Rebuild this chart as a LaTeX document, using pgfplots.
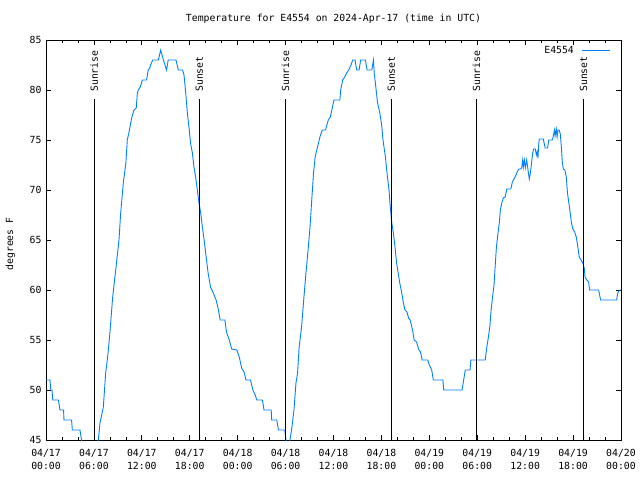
\documentclass[border=0pt]{standalone}
\usepackage{pgfplots}
\pgfplotsset{compat=1.18}
\usepackage{fontspec}
\setmainfont{DejaVu Sans Mono}
\newcommand\gf{\fontsize{9.8}{13}\selectfont}
\definecolor{tempblue}{RGB}{0,128,255}
\begin{document}
\begin{tikzpicture}[x=1pt,y=1pt]
\path[use as bounding box, fill=white] (0,0) rectangle (640,480);
\begin{axis}[
  at={(46pt,40pt)}, anchor=south west,
  scale only axis, width=575pt, height=400pt,
  xmin=0, xmax=72, ymin=45, ymax=85,
  xtick={0,6,...,72},
  xticklabels={{04/17\\00:00},{04/17\\06:00},{04/17\\12:00},{04/17\\18:00},{04/18\\00:00},{04/18\\06:00},{04/18\\12:00},{04/18\\18:00},{04/19\\00:00},{04/19\\06:00},{04/19\\12:00},{04/19\\18:00},{04/20\\00:00}},
  minor x tick num=2,
  ytick={45,50,...,85},
  tick align=inside,
  major tick length=5pt, minor tick length=3pt,
  tick style={black, line width=0.7pt},
  axis line style={black, line width=0.8pt},
  /pgf/number format/assume math mode=true,
  ticklabel style={font=\gf},
  xticklabel style={align=center, yshift=-6pt},
  yticklabel style={xshift=-1pt},
  legend plot pos=right,
  legend image code/.code={\path (-6pt,0pt); \draw[#1] (0pt,0pt) -- (28pt,0pt);},
  legend style={draw=none, fill=none, at={(1,1)}, anchor=north east, xshift=-10pt, yshift=-4pt, font=\gf, inner sep=0pt},
]
\addplot[tempblue, line width=0.9pt] coordinates {
(0,51) (0.5,51) (0.6,50) (0.75,50) (0.85,49) (1.55,49) (1.75,48) (2.2,48) (2.25,47) (3.2,47) (3.3,46) (4.25,46) (4.45,45) (4.6,44.3) (5.5,44) (6.3,44) (6.55,45) (6.76,46.7) (7.18,48.3) (7.47,51.7) (7.72,53.3) (8.0,55.7) (8.35,59.3) (8.77,62.3) (9.14,65) (9.35,67.7) (9.68,70.7) (10.0,72.7) (10.18,75) (10.4,75.8) (10.73,77.2) (11.02,78) (11.3,78.2) (11.44,79.7) (11.56,80) (11.8,80.3) (12.06,81) (12.6,81) (12.8,82) (13.0,82.2) (13.1,82.5) (13.36,83) (14.07,83) (14.36,84) (14.7,83) (15.1,82) (15.3,83) (16.28,83) (16.57,82) (17.1,82) (17.28,81.5) (17.5,79.7) (17.7,77.7) (17.9,76.3) (18.1,74.7) (18.33,73.7) (18.53,72.3) (18.74,71.3) (18.95,70) (19.16,68.7) (19.37,67.7) (19.58,66.3) (19.8,65) (20.1,63) (20.3,61.7) (20.6,60.3) (20.95,59.7) (21.3,59) (21.6,58) (21.8,57) (22.4,57) (22.6,55.8) (22.95,55) (23.25,54.1) (23.9,54) (24.2,53.3) (24.5,52.2) (24.8,51.8) (25.04,51) (25.6,51) (25.9,50) (26.2,49.5) (26.4,49) (27.1,49) (27.3,48) (28.2,48) (28.26,47) (28.9,47) (29.1,46) (29.9,46) (30.05,45) (30.2,44.5) (30.4,44.5) (30.55,45) (30.8,46.3) (31.05,48) (31.3,50.7) (31.5,51.7) (31.7,54.3) (32.0,56.3) (32.3,59.3) (32.55,61.7) (32.85,64.3) (33.06,66.3) (33.3,69.3) (33.5,71.7) (33.7,73.3) (34.0,74.3) (34.3,75.3) (34.6,76) (35.0,76) (35.35,77) (35.6,77.3) (35.85,78.2) (36.06,79) (36.8,79) (36.9,80) (37.15,81) (37.4,81.3) (37.65,81.7) (37.9,82) (38.2,82.5) (38.4,83) (38.7,83) (38.9,82) (39.2,82) (39.4,83) (40.0,83) (40.2,82) (40.8,82) (41.0,83) (41.1,81.7) (41.3,80.3) (41.5,78.8) (41.8,77.7) (42.03,76.5) (42.2,75) (42.5,73.3) (42.7,71.7) (42.95,70) (43.07,68.7) (43.2,67.5) (43.3,66.7) (43.5,65.7) (43.7,64.3) (43.9,62.7) (44.1,61.7) (44.3,60.7) (44.55,59.7) (44.75,58.7) (44.95,58) (45.2,57.8) (45.4,57.2) (45.6,57) (45.9,56) (46.1,55) (46.4,54.8) (46.7,54) (46.9,53.8) (47.1,53) (47.8,53) (48.0,52.5) (48.3,52) (48.5,51) (49.7,51) (49.8,50) (52.1,50) (52.3,51) (52.5,52) (53.1,52) (53.2,53) (55.0,53) (55.2,54.3) (55.4,55.3) (55.6,56.5) (55.7,57.7) (55.9,59.2) (56.1,60.5) (56.27,62.7) (56.4,64.3) (56.6,65.7) (56.76,66.7) (56.9,68) (57.1,68.8) (57.26,69.2) (57.5,69.3) (57.7,70.1) (58.2,70.1) (58.4,70.8) (58.6,71.1) (58.8,71.4) (59.0,71.8) (59.2,72.1) (59.4,72.1) (59.56,72.2) (59.69,73) (59.77,72.3) (59.9,73) (60.02,72.2) (60.19,73) (60.31,72.3) (60.44,71.5) (60.52,71.1) (60.65,71.7) (60.77,72.5) (60.94,73.7) (61.06,74.1) (61.27,74.1) (61.4,73.5) (61.5,73.8) (61.6,73.2) (61.69,74.5) (61.77,75.1) (62.27,75.1) (62.5,74.2) (62.8,74.2) (62.96,75) (63.4,75) (63.5,75.3) (63.67,76) (63.75,75.4) (63.9,76.1) (64.0,75.3) (64.1,76) (64.25,76) (64.4,75.6) (64.53,74.3) (64.65,72.8) (64.78,72.1) (64.98,72) (65.15,71.3) (65.3,69.7) (65.47,68.7) (65.64,67.7) (65.8,66.7) (65.97,66.1) (66.2,65.8) (66.4,65.3) (66.6,64.3) (66.77,63.3) (67.0,63) (67.2,62.7) (67.4,62.2) (67.5,61.3) (67.7,61) (67.95,60.8) (68.07,60) (69.2,60) (69.45,59) (71.45,59) (71.6,59.7) (71.8,60) (72,60)
};
\addlegendentry{E4554}
\addplot[black, line width=0.9pt, forget plot] coordinates {(6.05,45) (6.05,79.1)};
\addplot[black, line width=0.9pt, forget plot] coordinates {(19.2,45) (19.2,79.1)};
\addplot[black, line width=0.9pt, forget plot] coordinates {(29.98,45) (29.98,79.1)};
\addplot[black, line width=0.9pt, forget plot] coordinates {(43.25,45) (43.25,79.1)};
\addplot[black, line width=0.9pt, forget plot] coordinates {(53.9,45) (53.9,79.1)};
\addplot[black, line width=0.9pt, forget plot] coordinates {(67.3,45) (67.3,79.1)};
\node[rotate=90, anchor=west, font=\gf, inner sep=0pt] at (axis cs:6.05,79.8) {Sunrise};
\node[rotate=90, anchor=west, font=\gf, inner sep=0pt] at (axis cs:19.2,79.8) {Sunset};
\node[rotate=90, anchor=west, font=\gf, inner sep=0pt] at (axis cs:29.98,79.8) {Sunrise};
\node[rotate=90, anchor=west, font=\gf, inner sep=0pt] at (axis cs:43.25,79.8) {Sunset};
\node[rotate=90, anchor=west, font=\gf, inner sep=0pt] at (axis cs:53.9,79.8) {Sunrise};
\node[rotate=90, anchor=west, font=\gf, inner sep=0pt] at (axis cs:67.3,79.8) {Sunset};
\end{axis}
\node[font=\gf] at (333.5,461) {Temperature for E4554 on 2024-Apr-17 (time in UTC)};
\node[rotate=90, font=\gf] at (10.5,236) {degrees F};
\end{tikzpicture}
\end{document}
